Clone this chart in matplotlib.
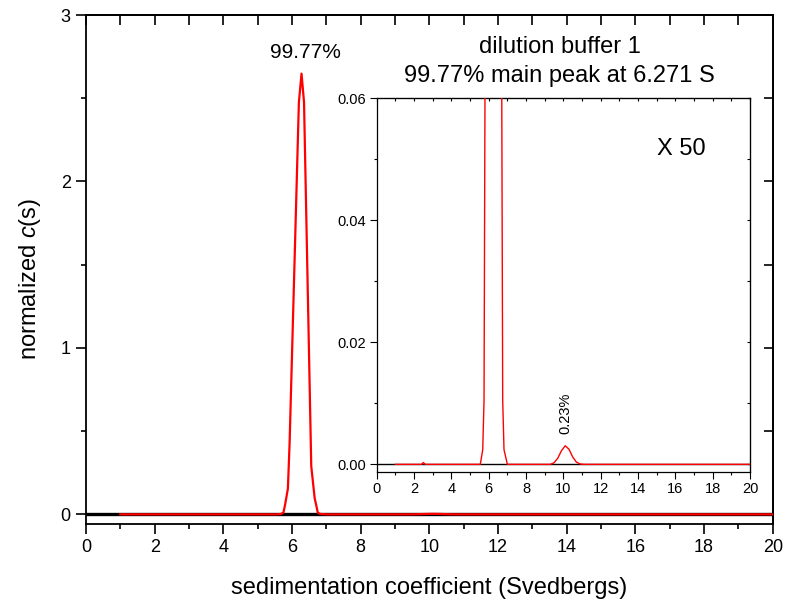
import matplotlib
matplotlib.use("Agg")
import matplotlib.pyplot as plt
from matplotlib.ticker import MultipleLocator

plt.rcParams['font.family'] = ['Liberation Sans', 'DejaVu Sans']
plt.rcParams['mathtext.fontset'] = 'custom'
plt.rcParams['mathtext.rm'] = 'Liberation Sans'
plt.rcParams['mathtext.it'] = 'Liberation Sans:italic'

# ---- data (sedimentation coefficient in S, normalized c(s)) ----
s_values = [1.0, 2.4, 2.5, 2.6, 5.55, 5.68, 5.75, 5.80, 5.88, 5.93, 6.20, 6.277,
            6.35, 6.56, 6.66, 6.70, 6.75, 6.82, 7.0,
            9.3, 9.5, 9.7, 9.9, 10.1, 10.3, 10.5, 10.7, 10.9, 11.1, 20.0]
c_values = [0.0, 0.0, 0.0003, 0.0, 0.0, 0.0024, 0.0105, 0.06, 0.155, 0.43, 2.475, 2.648,
            2.475, 0.29, 0.096, 0.06, 0.0105, 0.0024, 0.0,
            0.0, 0.00026, 0.0010, 0.00224, 0.00305, 0.00248, 0.00121, 0.00036, 0.00006, 0.0, 0.0]
baseline_x = [0, 20]
baseline_y = [0, 0]

main_xticks = list(range(0, 21, 2))
main_yticks = [0, 1, 2, 3]
inset_yticks = [0.00, 0.02, 0.04, 0.06]
main_peak_label = "99.77%"
minor_peak_label = "0.23%"
title_lines = ["dilution buffer 1", "99.77% main peak at 6.271 S"]
magnification = "X 50"

fig = plt.figure(figsize=(8, 6.03), dpi=100)

# ---------------- main axes ----------------
ax = fig.add_axes([0.1075, 0.131, 0.8584, 0.8441])
ax.plot(baseline_x, baseline_y, color='black', lw=2.4, zorder=2)
ax.plot(s_values, c_values, color='red', lw=1.6, zorder=3)
ax.set_xlim(0, 20)
ax.set_ylim(-0.058, 3)
ax.set_xticks(main_xticks)
ax.set_yticks(main_yticks)
ax.xaxis.set_minor_locator(MultipleLocator(1))
ax.yaxis.set_minor_locator(MultipleLocator(0.5))
ax.tick_params(which='major', direction='out', length=7, width=1.2, labelsize=13,
               top=False, right=False, pad=4)
ax.tick_params(which='minor', direction='out', length=3.8, width=1.2, top=False, right=False)
for sp in ax.spines.values():
    sp.set_linewidth(1.3)

topx = ax.secondary_xaxis('top')
topx.set_xticks(range(0, 21))
topx.tick_params(direction='in', length=7, width=1.2, labeltop=False)
topx.xaxis.set_minor_locator(matplotlib.ticker.NullLocator())
topx.spines['top'].set_linewidth(1.3)
righty = ax.secondary_yaxis('right')
righty.set_yticks([0, 0.5, 1, 1.5, 2, 2.5, 3])
righty.tick_params(direction='in', length=6.5, width=1.2, labelright=False)
righty.yaxis.set_minor_locator(matplotlib.ticker.NullLocator())
righty.spines['right'].set_linewidth(1.3)

ax.set_xlabel("sedimentation coefficient (Svedbergs)", fontsize=17, labelpad=15)
ax.set_ylabel(r"normalized $c$(s)", fontsize=17)
ax.yaxis.set_label_coords(-0.062, 0.481)

ax.text(6.39, 2.775, main_peak_label, fontsize=15, ha='center', va='center')
ax.text(13.8, 2.772, title_lines[0], fontsize=17, ha='center', va='baseline')
ax.text(13.8, 2.598, title_lines[1], fontsize=17, ha='center', va='baseline')

# ---------------- inset ----------------
ins = fig.add_axes([0.4709, 0.2177, 0.4666, 0.6192])
ins.plot(baseline_x, baseline_y, color='black', lw=1.0, zorder=2)
ins.plot(s_values, c_values, color='red', lw=1.0, zorder=3)
ins.set_xlim(0, 20)
ins.set_ylim(-0.00121, 0.06)
ins.set_xticks(main_xticks)
ins.set_yticks(inset_yticks)
ins.set_yticklabels([f"{v:.2f}" for v in inset_yticks])
ins.xaxis.set_minor_locator(MultipleLocator(1))
ins.yaxis.set_minor_locator(MultipleLocator(0.01))
ins.tick_params(which='major', direction='out', length=5, width=0.8, labelsize=10.5,
                top=False, right=False, pad=2.5)
ins.tick_params(which='minor', direction='out', length=2.5, width=0.8, top=False, right=False)
for sp in ins.spines.values():
    sp.set_linewidth(0.9)
itop = ins.secondary_xaxis('top')
itop.set_xticks(range(0, 21))
itop.tick_params(direction='in', length=2.5, width=0.8, labeltop=False)
itop.xaxis.set_minor_locator(matplotlib.ticker.NullLocator())
iright = ins.secondary_yaxis('right')
iright.set_yticks([0, 0.01, 0.02, 0.03, 0.04, 0.05, 0.06])
iright.tick_params(direction='in', length=2.5, width=0.8, labelright=False)
iright.yaxis.set_minor_locator(matplotlib.ticker.NullLocator())

ins.text(16.3, 0.0507, magnification, fontsize=17, ha='center', va='baseline')
ins.text(10.1, 0.00836, minor_peak_label, fontsize=10.5, ha='center', va='center', rotation=90)

fig.savefig("out.png", dpi=100)
